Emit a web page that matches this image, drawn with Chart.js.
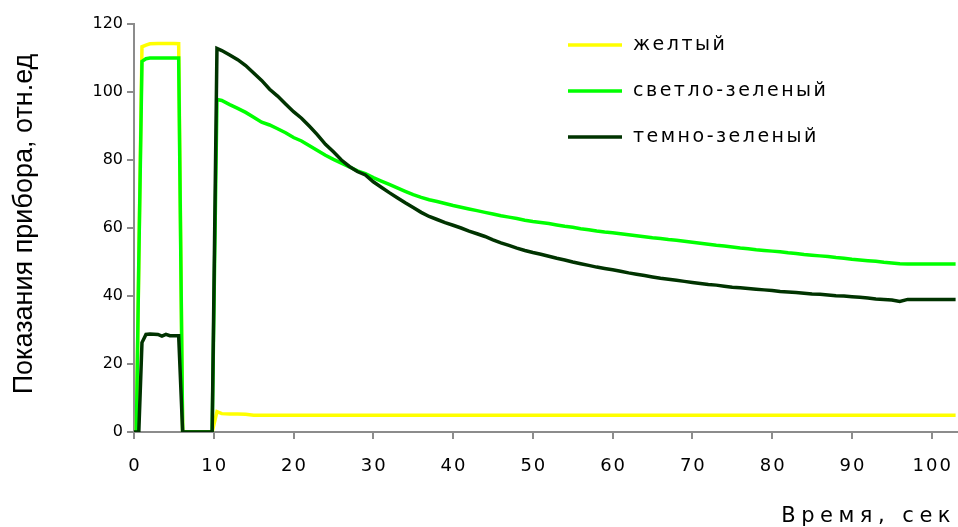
<!DOCTYPE html>
<html>
<head>
<meta charset="utf-8">
<script src="https://cdn.jsdelivr.net/npm/chart.js@4.4.0/dist/chart.umd.min.js"></script>
<style>
  html, body { margin: 0; padding: 0; background: #fff; }
  #wrap { width: 958px; height: 527px; position: relative; }
</style>
</head>
<body>
<div id="wrap"><canvas id="chart"></canvas></div>
<script>
// time, sec
const times = [0, 0.3, 0.6, 1, 1.5, 2, 3, 3.5, 4, 4.5, 5, 5.6, 6.1, 7, 8, 9, 9.8, 10.4,
  11, 12, 13, 14, 15, 16, 17, 18, 19, 20, 21, 22, 23, 24, 25, 26, 27, 28, 29, 30,
  31, 32, 33, 34, 35, 36, 37, 38, 39, 40, 41, 42, 43, 44, 45, 46, 47, 48, 49, 50,
  51, 52, 53, 54, 55, 56, 57, 58, 59, 60, 61, 62, 63, 64, 65, 66, 67, 68, 69, 70,
  71, 72, 73, 74, 75, 76, 77, 78, 79, 80, 81, 82, 83, 84, 85, 86, 87, 88, 89, 90,
  91, 92, 93, 94, 95, 96, 97, 98, 99, 100, 101, 102, 103];

// желтый
const yellowVals = [0, 0, 50, 113.3, 113.8, 114.2, 114.3, 114.3, 114.3, 114.3, 114.3, 114.2, 0, 0, 0, 0, 0, 6.0,
  5.4, 5.3, 5.3, 5.2, 4.9, 4.9, 4.9, 4.9, 4.9, 4.9, 4.9, 4.9, 4.9, 4.9, 4.9, 4.9, 4.9, 4.9, 4.9, 4.9,
  4.9, 4.9, 4.9, 4.9, 4.9, 4.9, 4.9, 4.9, 4.9, 4.9, 4.9, 4.9, 4.9, 4.9, 4.9, 4.9, 4.9, 4.9, 4.9, 4.9,
  4.9, 4.9, 4.9, 4.9, 4.9, 4.9, 4.9, 4.9, 4.9, 4.9, 4.9, 4.9, 4.9, 4.9, 4.9, 4.9, 4.9, 4.9, 4.9, 4.9,
  4.9, 4.9, 4.9, 4.9, 4.9, 4.9, 4.9, 4.9, 4.9, 4.9, 4.9, 4.9, 4.9, 4.9, 4.9, 4.9, 4.9, 4.9, 4.9, 4.9,
  4.9, 4.9, 4.9, 4.9, 4.9, 4.9, 4.9, 4.9, 4.9, 4.9, 4.9, 4.9, 4.9];

// светло-зеленый
const lightGreenVals = [0, 0, 50, 109, 109.8, 110, 110, 110, 110, 110, 110, 110, 0, 0, 0, 0, 0, 97.8,
  97.5, 96.3, 95.2, 94, 92.6, 91.1, 90.3, 89.2, 88, 86.6, 85.6, 84.2, 82.8, 81.4, 80.2, 79.1, 78, 76.8, 76, 74.8,
  73.8, 72.8, 71.8, 70.8, 69.8, 69, 68.3, 67.8, 67.2, 66.6, 66.1, 65.6, 65.1, 64.6, 64.1, 63.6, 63.2, 62.8, 62.3, 61.9,
  61.6, 61.3, 60.9, 60.5, 60.2, 59.8, 59.5, 59.1, 58.8, 58.6, 58.3, 58, 57.7, 57.4, 57.1, 56.9, 56.6, 56.4, 56.1, 55.8,
  55.5, 55.2, 54.9, 54.7, 54.4, 54.1, 53.9, 53.6, 53.4, 53.2, 53, 52.7, 52.5, 52.2, 52, 51.8, 51.6, 51.3, 51.1, 50.8,
  50.6, 50.4, 50.2, 49.9, 49.7, 49.5, 49.4, 49.4, 49.4, 49.4, 49.4, 49.4, 49.4];

// темно-зеленый
const darkGreenVals = [0, 0, 0, 26.3, 28.7, 28.8, 28.7, 28.2, 28.7, 28.3, 28.3, 28.3, 0, 0, 0, 0, 0, 112.8,
  112.2, 110.9, 109.5, 107.8, 105.6, 103.4, 100.8, 98.8, 96.5, 94.2, 92.3, 89.9, 87.4, 84.6, 82.4, 80, 78.1, 76.6, 75.6, 73.6,
  72, 70.4, 68.9, 67.4, 66, 64.6, 63.4, 62.5, 61.6, 60.8, 60, 59.1, 58.3, 57.5, 56.5, 55.6, 54.9, 54.1, 53.4, 52.8,
  52.3, 51.7, 51.1, 50.6, 50, 49.5, 49, 48.5, 48.1, 47.7, 47.3, 46.8, 46.4, 46, 45.6, 45.2, 44.9, 44.6, 44.3, 44,
  43.7, 43.4, 43.2, 42.9, 42.6, 42.4, 42.2, 42, 41.8, 41.6, 41.3, 41.2, 41, 40.8, 40.6, 40.5, 40.3, 40.1, 40, 39.8,
  39.6, 39.4, 39.1, 39, 38.8, 38.4, 39, 39, 39, 39, 39, 39, 39];

const seriesNames = ['желтый', 'светло-зеленый', 'темно-зеленый'];
const seriesColors = ['#ffff00', '#00ff00', '#003300'];
const xTicks = [0, 10, 20, 30, 40, 50, 60, 70, 80, 90, 100];
const yTicks = [0, 20, 40, 60, 80, 100, 120];
const xTitle = 'Время, сек';
const yTitle = 'Показания прибора, отн.ед';

const axisGray = '#8c8c8c';

function toPoints(vals) {
  return times.map((t, i) => ({ x: t, y: vals[i] }));
}

// titles, x tick labels and legend drawn by hand
const annotate = {
  id: 'annotate',
  afterDraw(chart) {
    const ctx = chart.ctx;
    const xs = chart.scales.x;
    ctx.save();
    ctx.fillStyle = '#000';

    // x tick labels (spaced out like the original)
    ctx.font = '18px "DejaVu Sans"';
    ctx.textAlign = 'center';
    ctx.textBaseline = 'middle';
    ctx.letterSpacing = '2px';
    xTicks.forEach(v => ctx.fillText(String(v), xs.getPixelForValue(v) + 1, 466));

    // x title
    ctx.font = '21px "DejaVu Sans"';
    ctx.letterSpacing = '5.5px';
    ctx.textAlign = 'right';
    ctx.textBaseline = 'alphabetic';
    ctx.fillText(xTitle, 956, 522);

    // y title
    ctx.letterSpacing = '0px';
    ctx.font = '27px "Liberation Sans"';
    ctx.textAlign = 'center';
    ctx.textBaseline = 'middle';
    ctx.translate(25, (chart.chartArea.top + chart.chartArea.bottom) / 2 - 4);
    ctx.rotate(-Math.PI / 2);
    ctx.fillText(yTitle, 0, 0);
    ctx.restore();

    // legend
    ctx.save();
    ctx.font = '19px "DejaVu Sans"';
    ctx.letterSpacing = '2.5px';
    ctx.textAlign = 'left';
    ctx.textBaseline = 'middle';
    chart.data.datasets.forEach((ds, i) => {
      const y = 45 + i * 46;
      ctx.strokeStyle = ds.borderColor;
      ctx.lineWidth = 3.5;
      ctx.beginPath();
      ctx.moveTo(568, y);
      ctx.lineTo(622, y);
      ctx.stroke();
      ctx.fillStyle = '#000';
      ctx.fillText(ds.label, 633, y);
    });
    ctx.restore();
  }
};

new Chart(document.getElementById('chart'), {
  type: 'line',
  data: {
    datasets: seriesNames.map((name, i) => ({
      label: name,
      data: toPoints([yellowVals, lightGreenVals, darkGreenVals][i]),
      borderColor: seriesColors[i],
      backgroundColor: seriesColors[i],
      borderWidth: 3.5,
      pointRadius: 0,
      tension: 0,
      fill: false,
      order: 2 - i
    }))
  },
  options: {
    responsive: true,
    maintainAspectRatio: false,
    animation: false,
    layout: { padding: { top: 24, right: 0, left: 0, bottom: 0 } },
    plugins: {
      legend: { display: false },
      tooltip: { enabled: false }
    },
    scales: {
      x: {
        type: 'linear',
        min: 0,
        max: 103.3,
        afterBuildTicks: scale => { scale.ticks = xTicks.map(v => ({ value: v })); },
        afterFit: scale => { scale.height = 95; },
        ticks: { display: false },
        grid: { drawOnChartArea: false, drawTicks: true, tickLength: 7, color: axisGray, lineWidth: 2 },
        border: { color: axisGray, width: 2 }
      },
      y: {
        min: 0,
        max: 120,
        afterBuildTicks: scale => { scale.ticks = yTicks.map(v => ({ value: v })); },
        afterFit: scale => { scale.width = 134; },
        ticks: { color: '#000', font: { family: 'DejaVu Sans', size: 16 }, padding: 4 },
        grid: { drawOnChartArea: false, drawTicks: true, tickLength: 7, color: axisGray, lineWidth: 2 },
        border: { color: axisGray, width: 2 }
      }
    }
  },
  plugins: [annotate]
});
</script>
</body>
</html>
